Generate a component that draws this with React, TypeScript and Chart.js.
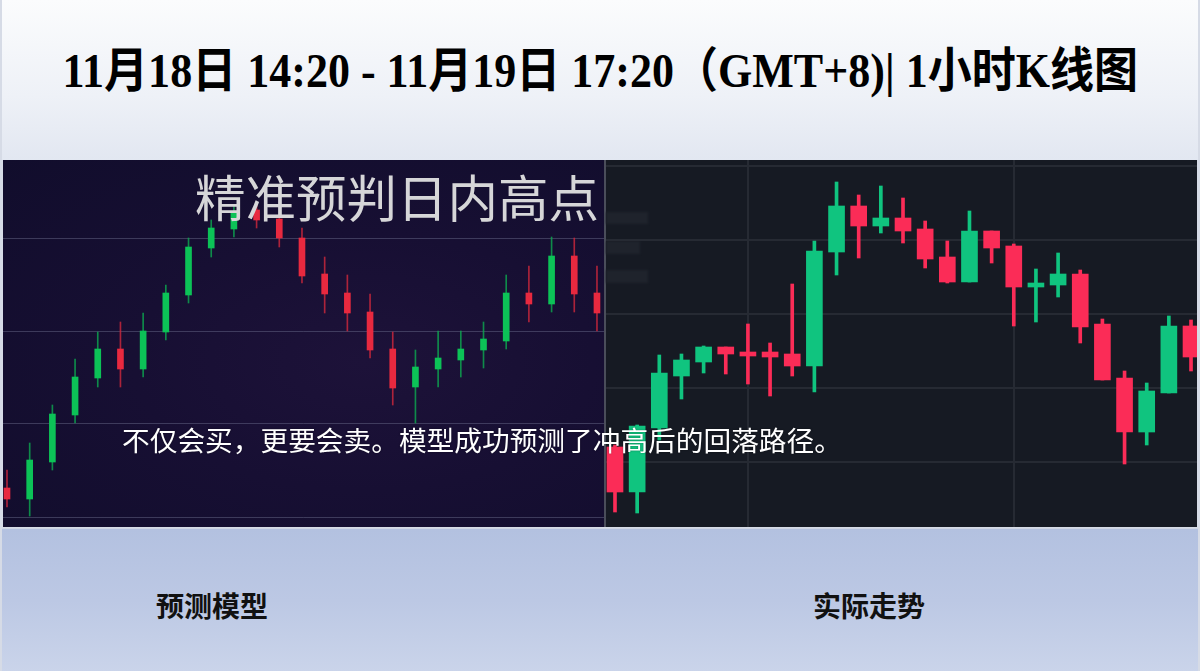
import React, { useEffect, useLayoutEffect, useRef } from "react";
import { Chart, registerables } from "chart.js";

Chart.register(...registerables);

// ---- Data (price units) ----
const leftOpen = [39, 28, 65, 112, 149, 178, 158, 195, 232, 279, 298, 317, 308, 289, 253, 234, 215, 178, 140, 158, 167, 177, 186, 234, 223, 271, 234];
const leftClose = [28, 67, 113, 150, 178, 158, 196, 234, 280, 299, 315, 307, 289, 251, 233, 214, 177, 139, 160, 169, 178, 188, 234, 223, 271, 233, 214];
const leftHigh = [57, 84, 122, 168, 195, 205, 214, 242, 289, 307, 322, 324, 312, 299, 270, 252, 233, 195, 177, 196, 196, 205, 252, 261, 290, 289, 261];
const leftLow = [20, 11, 57, 104, 140, 140, 150, 187, 224, 270, 290, 299, 280, 244, 214, 196, 169, 122, 104, 140, 150, 159, 178, 205, 215, 215, 196];

const rightOpen = [80, 35, 99, 151, 165, 180, 175, 175, 173, 161, 275, 321, 301, 309, 298, 270, 245, 296, 281, 240, 242, 253, 203, 149, 95, 134, 201];
const rightClose = [35, 101, 154, 167, 180, 173, 171, 170, 161, 276, 321, 301, 309, 296, 268, 245, 296, 279, 240, 244, 253, 200, 147, 95, 136, 201, 170];
const rightHigh = [82, 102, 172, 173, 181, 180, 203, 184, 243, 286, 345, 332, 341, 329, 306, 286, 316, 296, 283, 258, 274, 257, 208, 156, 144, 211, 207];
const rightLow = [15, 14, 87, 128, 154, 153, 143, 131, 151, 135, 252, 269, 294, 284, 259, 244, 245, 264, 201, 205, 230, 184, 147, 63, 82, 134, 156];

const leftGridLevels = [10, 104, 196, 289];
const rightGridLevels = [65, 139, 213, 287, 361];
const rightVGridCandles = [7, 19];

const titleText = "11月18日 14:20 - 11月19日 17:20（GMT+8)| 1小时K线图";
const headlineText = "精准预判日内高点";
const captionText = "不仅会买，更要会卖。模型成功预测了冲高后的回落路径。";
const leftLabel = "预测模型";
const rightLabel = "实际走势";

type CandleCfg = {
  open: number[];
  close: number[];
  high: number[];
  low: number[];
  up: string;
  down: string;
  wickUp: string;
  wickDown: string;
  bodyWidth: number;
  wickWidth: number;
  xMin: number;
  xMax: number;
  gridLevels: number[];
  gridColor: string;
  vGrid: number[] | null;
};

function makeChart(canvas: HTMLCanvasElement, c: CandleCfg) {
  const isUp = c.open.map((o, i) => c.close[i] >= o);
  const bodies = c.open.map((o, i) => ({ x: i + 1, y: [o, c.close[i]] }));
  const wicks = c.high.map((h, i) => ({ x: i + 1, y: [c.low[i], h] }));
  return new Chart(canvas, {
    type: "bar",
    data: {
      datasets: [
        {
          data: bodies as any,
          backgroundColor: isUp.map((u) => (u ? c.up : c.down)),
          barThickness: c.bodyWidth,
          minBarLength: 2,
          grouped: false,
          order: 1,
        } as any,
        {
          data: wicks as any,
          backgroundColor: isUp.map((u) => (u ? c.wickUp : c.wickDown)),
          barThickness: c.wickWidth,
          grouped: false,
          order: 2,
        } as any,
      ],
    },
    options: {
      animation: false,
      responsive: false,
      maintainAspectRatio: false,
      layout: { padding: 0 },
      plugins: { legend: { display: false }, tooltip: { enabled: false } },
      scales: {
        x: {
          type: "linear",
          min: c.xMin,
          max: c.xMax,
          offset: false,
          ticks: { display: false },
          border: { display: false },
          grid: {
            display: !!c.vGrid,
            offset: false,
            drawTicks: false,
            color: c.gridColor,
            lineWidth: 2,
          },
          afterBuildTicks: (scale: any) => {
            scale.ticks = (c.vGrid || []).map((v) => ({ value: v }));
          },
        },
        y: {
          min: 0,
          max: 367,
          ticks: { display: false },
          border: { display: false },
          grid: { drawTicks: false, color: c.gridColor, lineWidth: c.vGrid ? 2 : 1 },
          afterBuildTicks: (scale: any) => {
            scale.ticks = c.gridLevels.map((v) => ({ value: v }));
          },
        },
      },
    } as any,
  });
}

export default function App() {
  const leftRef = useRef<HTMLCanvasElement>(null);
  const rightRef = useRef<HTMLCanvasElement>(null);
  const titleRef = useRef<HTMLSpanElement>(null);

  useLayoutEffect(() => {
    document.body.style.margin = "0";
    const t = titleRef.current;
    if (t) {
      const w = t.offsetWidth;
      if (w > 0) t.style.transform = `scaleX(${1076 / w})`;
    }
  }, []);

  useEffect(() => {
    const a = makeChart(leftRef.current!, {
      open: leftOpen,
      close: leftClose,
      high: leftHigh,
      low: leftLow,
      up: "#0cc257",
      down: "#e8293f",
      wickUp: "rgba(12,170,80,0.8)",
      wickDown: "rgba(210,40,60,0.8)",
      bodyWidth: 6,
      wickWidth: 1,
      xMin: 0.824,
      xMax: 27.31,
      gridLevels: leftGridLevels,
      gridColor: "rgba(110,112,145,0.45)",
      vGrid: null,
    });
    const b = makeChart(rightRef.current!, {
      open: rightOpen,
      close: rightClose,
      high: rightHigh,
      low: rightLow,
      up: "#10c47f",
      down: "#fb2c57",
      wickUp: "#10c47f",
      wickDown: "#fb2c57",
      bodyWidth: 16,
      wickWidth: 3,
      xMin: 0.594,
      xMax: 27.27,
      gridLevels: rightGridLevels,
      gridColor: "#262a33",
      vGrid: rightVGridCandles,
    });
    return () => {
      a.destroy();
      b.destroy();
    };
  }, []);

  const cjk = '"Noto Sans CJK SC", "Noto Sans", sans-serif';

  return (
    <div
      style={{
        position: "fixed",
        left: 0,
        top: 0,
        width: 1200,
        height: 671,
        overflow: "hidden",
        background: "#d6dbe6",
      }}
    >
      {/* top band */}
      <div
        style={{
          position: "absolute",
          left: 2,
          top: 0,
          width: 1196,
          height: 160,
          background: "linear-gradient(180deg, #fbfcfd 0%, #eef1f7 60%, #e2e7f1 100%)",
        }}
      />
      <div
        style={{
          position: "absolute",
          left: 0,
          top: 39,
          width: 1200,
          height: 64,
          lineHeight: "64px",
          textAlign: "center",
          whiteSpace: "nowrap",
        }}
      >
        <span
          ref={titleRef}
          style={{
            display: "inline-block",
            fontFamily: '"Liberation Serif", "Noto Sans CJK SC", serif',
            fontWeight: "bold",
            fontSize: 48,
            color: "#000",
            transformOrigin: "center",
          }}
        >
          {titleText}
        </span>
      </div>

      {/* bottom band */}
      <div
        style={{
          position: "absolute",
          left: 2,
          top: 528,
          width: 1196,
          height: 143,
          background: "linear-gradient(180deg, #b3c1e0 0%, #bcc8e4 50%, #cad4ea 100%)",
          borderTop: "1px solid #cfd5e3",
        }}
      />
      <div style={{ position: "absolute", left: 112, top: 590, width: 200, textAlign: "center", fontFamily: cjk, fontWeight: "bold", fontSize: 28, lineHeight: "30px", color: "#111" }}>
        {leftLabel}
      </div>
      <div style={{ position: "absolute", left: 769, top: 590, width: 200, textAlign: "center", fontFamily: cjk, fontWeight: "bold", fontSize: 28, lineHeight: "30px", color: "#111" }}>
        {rightLabel}
      </div>

      {/* left panel */}
      <div
        style={{
          position: "absolute",
          left: 3,
          top: 160,
          width: 601,
          height: 367,
          background: "radial-gradient(ellipse at 60% 55%, #1d1239 0%, #170f33 45%, #110d2c 100%)",
        }}
      />
      <canvas ref={leftRef} width={601} height={367} style={{ position: "absolute", left: 3, top: 160, width: 601, height: 367 }} />
      <div style={{ position: "absolute", left: 604, top: 160, width: 2, height: 367, background: "#4a4d5a" }} />

      {/* right panel */}
      <div style={{ position: "absolute", left: 606, top: 160, width: 591, height: 367, background: "#161a23" }} />
      <div style={{ position: "absolute", left: 606, top: 212, width: 42, height: 12, background: "#1f232c", filter: "blur(1px)" }} />
      <div style={{ position: "absolute", left: 606, top: 241, width: 34, height: 13, background: "#1f232c", filter: "blur(1px)" }} />
      <div style={{ position: "absolute", left: 606, top: 270, width: 42, height: 13, background: "#1f232c", filter: "blur(1px)" }} />
      <canvas ref={rightRef} width={591} height={367} style={{ position: "absolute", left: 606, top: 160, width: 591, height: 367 }} />

      {/* overlay texts */}
      <div
        style={{
          position: "absolute",
          left: 195,
          top: 169,
          fontFamily: cjk,
          fontSize: 50.5,
          lineHeight: "52px",
          color: "#d6d6d8",
          whiteSpace: "nowrap",
        }}
      >
        {headlineText}
      </div>
      <div
        style={{
          position: "absolute",
          left: 122,
          top: 425,
          fontFamily: cjk,
          fontSize: 27.7,
          lineHeight: "29px",
          color: "#ffffff",
          whiteSpace: "nowrap",
          textShadow: "0 0 2px rgba(0,0,0,0.4)",
        }}
      >
        {captionText}
      </div>
    </div>
  );
}
